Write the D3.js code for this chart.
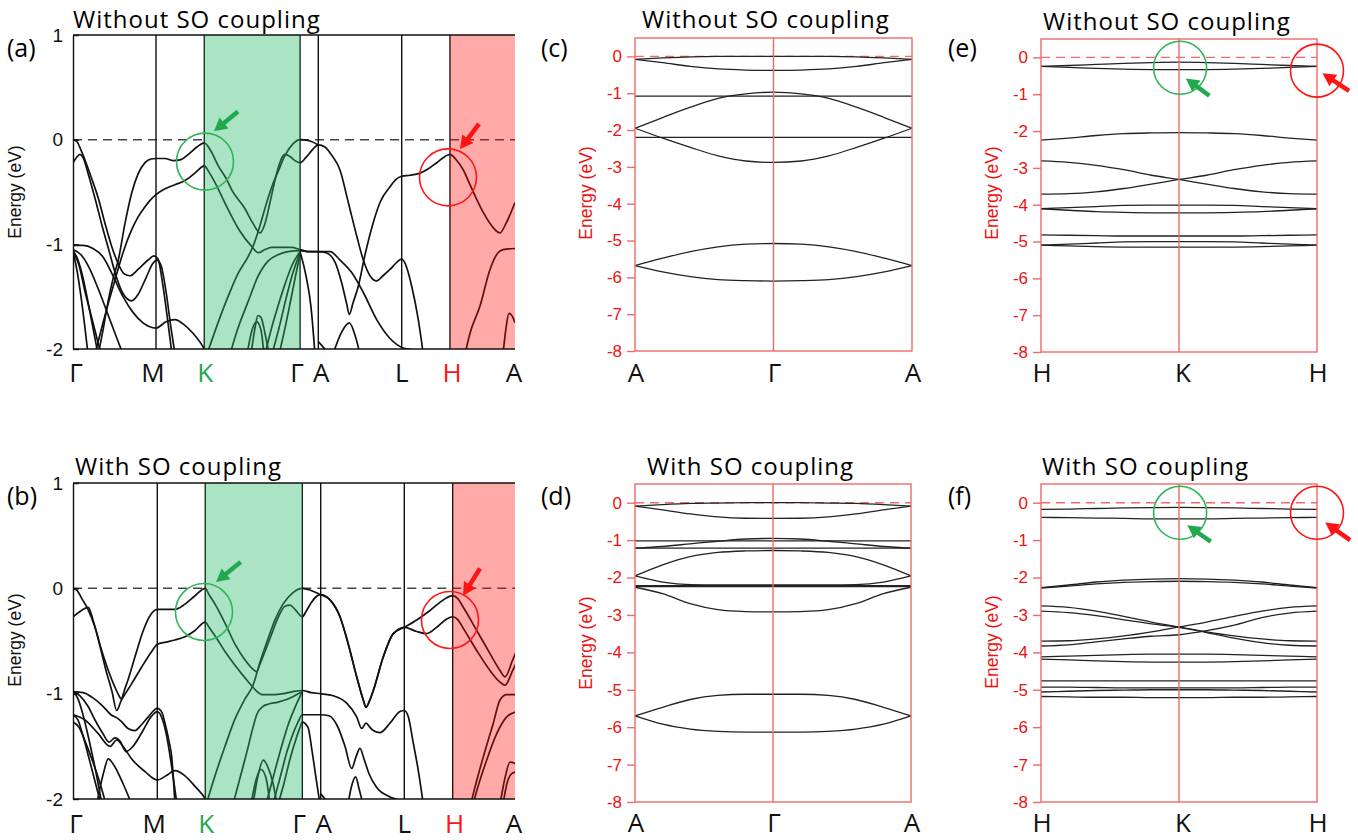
<!DOCTYPE html>
<html>
<head>
<meta charset="utf-8">
<script src="https://cdn.jsdelivr.net/npm/d3@7"></script>
<style>
body { margin: 0; background: #fff; }
text { font-family: "Liberation Sans", Arial, sans-serif; }
.big { font-family: "Open Sans", Lato, sans-serif; }
</style>
</head>
<body>
<script>
// ---- high symmetry paths (k in path units) ----
var kPathA = [0, 0.83, 1.313, 2.27, 2.453, 3.287, 3.77];
var kPathB = [0, 0.843, 1.323, 2.293, 2.477, 3.313, 3.797];
var kEnd = 4.42;
var kLabelsAB = ["Γ", "M", "K", "Γ", "A", "L", "H", "A"];

// ---- (a) without SO, wide path, [k, E] ----
var bandsA = [
  [[0,0],[0.04,-0.02],[0.08,-0.1],[0.13,-0.22],[0.19,-0.38],[0.253,-0.56],[0.32,-0.8],[0.387,-1.02],[0.45,-1.18],[0.51,-1.28],[0.57,-1.3],[0.65,-1.24],[0.75,-1.15],[0.81,-1.11],[0.85,-1.14],[0.9,-1.4],[0.95,-1.75],[0.99,-2.05]],
  [[0,-0.22],[0.035,-0.17],[0.07,-0.14],[0.1,-0.17],[0.15,-0.32],[0.22,-0.56],[0.29,-0.82],[0.36,-1.06],[0.43,-1.3],[0.5,-1.47],[0.587,-1.54],[0.65,-1.48],[0.73,-1.32],[0.8,-1.18],[0.84,-1.15],[0.88,-1.2],[0.93,-1.45],[0.98,-1.8],[1.02,-2.05]],
  [[0.22,-2.05],[0.3,-1.75],[0.36,-1.54],[0.42,-1.34],[0.5,-1.08],[0.587,-0.86],[0.65,-0.74],[0.72,-0.64],[0.78,-0.57],[0.83,-0.525],[0.92,-0.47],[1.02,-0.43],[1.1,-0.4],[1.153,-0.37],[1.23,-0.31],[1.313,-0.25],[1.36,-0.31],[1.42,-0.41],[1.527,-0.62],[1.66,-0.86],[1.787,-1.02],[1.853,-1.08],[1.92,-1.05],[1.987,-1.03],[2.1,-1.03],[2.187,-1.03],[2.27,-1.05],[2.36,-1.07],[2.453,-1.07],[2.57,-1.07],[2.67,-1.15],[2.787,-1.27],[2.903,-1.46],[3.037,-1.72],[3.17,-1.9],[3.3,-1.99],[3.4,-2.01],[3.45,-2.05]],
  [[0.253,-2.05],[0.3,-1.82],[0.35,-1.55],[0.4,-1.33],[0.453,-1.15],[0.52,-0.8],[0.587,-0.51],[0.65,-0.33],[0.72,-0.22],[0.78,-0.185],[0.83,-0.18],[0.92,-0.18],[1.0,-0.2],[1.08,-0.19],[1.153,-0.14],[1.24,-0.07],[1.313,-0.03],[1.38,-0.11],[1.453,-0.25],[1.537,-0.38],[1.587,-0.48],[1.72,-0.66],[1.8,-0.8],[1.87,-0.89],[1.92,-0.8],[1.97,-0.6],[2.037,-0.32],[2.09,-0.17],[2.12,-0.14],[2.17,-0.16],[2.22,-0.2],[2.27,-0.22],[2.33,-0.17],[2.4,-0.09],[2.453,-0.05],[2.52,-0.07],[2.58,-0.14],[2.67,-0.29],[2.753,-0.6],[2.837,-0.92],[2.903,-1.15],[2.97,-1.3],[3.037,-1.35],[3.1,-1.3],[3.17,-1.24],[3.24,-1.17],[3.287,-1.14],[3.32,-1.18],[3.387,-1.4],[3.453,-1.72],[3.503,-2.05]],
  [[1.34,-2.05],[1.45,-1.75],[1.55,-1.5],[1.65,-1.28],[1.75,-1.12],[1.8,-1.02],[1.87,-0.82],[1.937,-0.6],[2.0,-0.42],[2.053,-0.3],[2.12,-0.15],[2.2,-0.04],[2.27,0],[2.36,-0.01],[2.453,-0.05]],
  [[1.57,-2.05],[1.65,-1.8],[1.75,-1.55],[1.853,-1.3],[1.95,-1.16],[2.05,-1.1],[2.15,-1.07],[2.27,-1.06],[2.36,-1.07],[2.453,-1.07],[2.53,-1.08],[2.62,-1.17],[2.687,-1.37],[2.737,-1.57],[2.763,-1.67],[2.8,-1.56],[2.853,-1.4],[2.92,-1.1],[3.0,-0.8],[3.07,-0.6],[3.17,-0.45],[3.23,-0.38],[3.287,-0.35],[3.37,-0.34],[3.47,-0.32],[3.55,-0.28],[3.637,-0.22],[3.72,-0.16],[3.77,-0.14],[3.83,-0.19],[3.903,-0.29],[3.97,-0.43],[4.037,-0.57],[4.1,-0.69],[4.17,-0.8],[4.23,-0.87],[4.27,-0.89],[4.33,-0.8],[4.42,-0.6]],
  [[1.92,-2.05],[2.0,-1.75],[2.053,-1.58],[2.12,-1.38],[2.19,-1.2],[2.27,-1.07]],
  [[1.99,-2.05],[2.06,-1.8],[2.13,-1.52],[2.2,-1.27],[2.27,-1.08]],
  [[2.06,-2.05],[2.12,-1.8],[2.18,-1.52],[2.23,-1.28],[2.27,-1.1]],
  [[1.78,-2.05],[1.82,-1.8],[1.85,-1.68],[1.88,-1.7],[1.92,-1.85],[1.96,-2.05]],
  [[1.74,-2.05],[1.79,-1.82],[1.84,-1.74],[1.88,-1.82],[1.91,-2.05]],
  [[0,-1.01],[0.1,-1.01],[0.2,-1.04],[0.3,-1.12],[0.4,-1.3],[0.5,-1.5],[0.6,-1.65],[0.7,-1.75],[0.83,-1.8],[0.93,-1.74],[1.02,-1.72],[1.1,-1.76],[1.2,-1.85],[1.313,-2.0],[1.34,-2.05]],
  [[0,-1.05],[0.08,-1.1],[0.16,-1.22],[0.25,-1.42],[0.33,-1.62],[0.4,-1.8],[0.46,-1.95],[0.5,-2.05]],
  [[0,-1.06],[0.05,-1.15],[0.1,-1.32],[0.15,-1.55],[0.2,-1.8],[0.25,-2.05]],
  [[0,-1.07],[0.04,-1.25],[0.08,-1.5],[0.12,-1.8],[0.15,-2.05]],
  [[0,-1.07],[0.06,-1.2],[0.12,-1.45],[0.2,-1.75],[0.28,-2.05]],
  [[2.27,-1.07],[2.33,-1.3],[2.38,-1.6],[2.42,-2.05]],
  [[2.453,-1.93],[2.5,-1.98],[2.56,-2.05]],
  [[2.6,-2.05],[2.68,-1.85],[2.763,-1.75],[2.83,-1.9],[2.87,-2.05]],
  [[3.92,-2.05],[3.97,-1.85],[4.07,-1.59],[4.17,-1.24],[4.25,-1.08],[4.3,-1.05],[4.42,-1.04]],
  [[4.3,-2.05],[4.33,-1.8],[4.36,-1.66],[4.4,-1.7],[4.42,-1.75]]
];

// ---- (b) with SO, wide path ----
var bandsB = [
  [[0,0],[0.04,-0.02],[0.09,-0.1],[0.15,-0.2],[0.22,-0.37],[0.287,-0.59],[0.353,-0.78],[0.42,-0.94],[0.46,-1.02],[0.48,-1.05],[0.52,-0.95],[0.553,-0.86],[0.62,-0.65],[0.703,-0.4],[0.77,-0.26],[0.843,-0.2],[0.93,-0.2],[1.02,-0.2],[1.12,-0.15],[1.22,-0.07],[1.323,0],[1.36,-0.06],[1.42,-0.15],[1.52,-0.33],[1.62,-0.53],[1.72,-0.68],[1.79,-0.76],[1.837,-0.79],[1.87,-0.72],[1.92,-0.6],[1.98,-0.45],[2.05,-0.28],[2.12,-0.17],[2.17,-0.16],[2.22,-0.2],[2.293,-0.27],[2.33,-0.22],[2.38,-0.14],[2.43,-0.08],[2.477,-0.06],[2.57,-0.11],[2.67,-0.27],[2.753,-0.53],[2.837,-0.84],[2.903,-1.06],[2.93,-1.13],[2.96,-1.08],[3.003,-0.97],[3.103,-0.65],[3.203,-0.43],[3.313,-0.37],[3.437,-0.3],[3.57,-0.21],[3.703,-0.11],[3.797,-0.07],[3.85,-0.1],[3.903,-0.18],[4.037,-0.4],[4.17,-0.62],[4.27,-0.78],[4.32,-0.84],[4.397,-0.68],[4.437,-0.59]],
  [[0,-0.27],[0.07,-0.22],[0.153,-0.18],[0.2,-0.3],[0.27,-0.55],[0.33,-0.78],[0.39,-0.98],[0.437,-1.16],[0.48,-1.07],[0.53,-0.99],[0.587,-0.905],[0.687,-0.747],[0.787,-0.6],[0.843,-0.53],[0.93,-0.51],[1.02,-0.49],[1.12,-0.46],[1.22,-0.4],[1.323,-0.32],[1.36,-0.37],[1.42,-0.45],[1.52,-0.6],[1.62,-0.73],[1.72,-0.85],[1.8,-0.94],[1.83,-0.97],[1.9,-1.01],[2.0,-1.01],[2.1,-1.0],[2.2,-0.98],[2.293,-0.97],[2.38,-0.99],[2.477,-1.0],[2.603,-1.02],[2.737,-1.09],[2.837,-1.22],[2.887,-1.33],[2.93,-1.28],[2.97,-1.32],[3.003,-1.35],[3.07,-1.37],[3.17,-1.28],[3.27,-1.17],[3.313,-1.16],[3.353,-1.22],[3.403,-1.47],[3.453,-1.73],[3.503,-2.05]],
  [[1.333,-2.05],[1.42,-1.78],[1.52,-1.5],[1.62,-1.24],[1.72,-1.05],[1.8,-0.92],[1.87,-0.7],[1.95,-0.48],[2.02,-0.3],[2.1,-0.15],[2.2,-0.04],[2.293,0],[2.38,-0.02],[2.477,-0.06],[2.57,-0.11],[2.67,-0.27],[2.753,-0.53],[2.837,-0.84],[2.903,-1.06],[2.93,-1.13],[2.96,-1.08],[3.003,-0.97],[3.103,-0.65],[3.203,-0.43],[3.313,-0.37],[3.437,-0.41],[3.537,-0.43],[3.637,-0.37],[3.737,-0.29],[3.797,-0.27],[3.85,-0.3],[3.903,-0.38],[4.037,-0.59],[4.17,-0.78],[4.27,-0.89],[4.32,-0.92],[4.397,-0.78],[4.437,-0.7]],
  [[1.6,-2.05],[1.67,-1.8],[1.737,-1.56],[1.8,-1.32],[1.837,-1.2],[1.9,-1.12],[1.95,-1.1],[2.05,-1.08],[2.15,-1.05],[2.293,-0.98]],
  [[1.93,-2.05],[2.0,-1.8],[2.08,-1.52],[2.15,-1.3],[2.22,-1.13],[2.293,-0.98]],
  [[2.0,-2.05],[2.07,-1.8],[2.14,-1.55],[2.2,-1.38],[2.25,-1.27],[2.293,-1.2],[2.38,-1.2],[2.477,-1.2],[2.56,-1.21],[2.64,-1.3],[2.72,-1.5],[2.787,-1.71],[2.83,-1.6],[2.87,-1.52],[2.91,-1.62],[2.96,-1.76],[3.037,-1.89],[3.17,-1.98],[3.27,-2.02],[3.31,-2.05]],
  [[2.05,-2.05],[2.11,-1.85],[2.17,-1.62],[2.23,-1.43],[2.27,-1.32],[2.293,-1.27],[2.35,-1.32],[2.39,-1.54],[2.43,-1.8],[2.47,-2.05]],
  [[1.8,-2.05],[1.85,-1.78],[1.903,-1.63],[1.95,-1.7],[2.0,-1.85],[2.04,-2.05]],
  [[1.78,-2.05],[1.83,-1.82],[1.88,-1.72],[1.93,-1.8],[1.97,-2.05]],
  [[0,-0.98],[0.1,-0.99],[0.2,-1.04],[0.3,-1.12],[0.38,-1.2],[0.44,-1.23],[0.48,-1.26],[0.55,-1.33],[0.62,-1.35],[0.68,-1.3],[0.753,-1.22],[0.843,-1.14],[0.89,-1.18],[0.92,-1.28],[0.96,-1.45],[0.987,-1.6],[1.02,-2.05]],
  [[0,-0.98],[0.07,-1.02],[0.15,-1.12],[0.22,-1.25],[0.3,-1.38],[0.36,-1.46],[0.42,-1.42],[0.47,-1.45],[0.53,-1.55],[0.6,-1.5],[0.7,-1.35],[0.78,-1.22],[0.843,-1.17],[0.9,-1.26],[0.94,-1.42],[0.98,-1.65],[1.01,-1.85],[1.04,-2.05]],
  [[0,-1.2],[0.12,-1.25],[0.253,-1.38],[0.37,-1.5],[0.437,-1.44],[0.5,-1.5],[0.587,-1.62],[0.72,-1.74],[0.843,-1.82],[0.93,-1.78],[1.02,-1.73],[1.12,-1.78],[1.22,-1.88],[1.323,-2.0],[1.35,-2.05]],
  [[0,-1.27],[0.06,-1.32],[0.12,-1.45],[0.2,-1.65],[0.27,-1.85],[0.33,-2.05]],
  [[0,-1.2],[0.05,-1.25],[0.1,-1.4],[0.17,-1.65],[0.23,-1.87],[0.28,-2.05]],
  [[0,-0.98],[0.05,-1.05],[0.1,-1.2],[0.17,-1.48],[0.23,-1.75],[0.29,-2.05]],
  [[0.237,-2.05],[0.303,-1.76],[0.353,-1.62],[0.403,-1.67],[0.503,-1.86],[0.587,-2.05]],
  [[2.75,-2.05],[2.78,-1.9],[2.827,-1.79],[2.86,-1.9],[2.9,-2.05]],
  [[2.477,-1.95],[2.52,-2.0],[2.56,-2.05]],
  [[3.977,-2.05],[4.05,-1.78],[4.103,-1.6],[4.203,-1.28],[4.27,-1.06],[4.337,-1.01],[4.437,-1.01]],
  [[4.0,-2.05],[4.07,-1.82],[4.137,-1.63],[4.237,-1.38],[4.337,-1.22],[4.437,-1.17]],
  [[4.27,-2.05],[4.32,-1.8],[4.37,-1.65],[4.437,-1.67]],
  [[4.3,-2.05],[4.34,-1.85],[4.387,-1.76],[4.437,-1.74]]
];

// ---- narrow panels: energies on a fixed k grid (A-Γ-A and H-K-H) ----
var kGrid = [0, 0.1, 0.2, 0.3, 0.4, 0.5, 0.6, 0.7, 0.8, 0.9, 1];
var bandsC = [
  [-0.08,-0.04,-0.01,0,0,0,0,0,-0.01,-0.04,-0.08],
  [-0.08,-0.17,-0.27,-0.34,-0.37,-0.38,-0.37,-0.34,-0.27,-0.17,-0.08],
  [-1.08,-1.08,-1.08,-1.08,-1.08,-1.08,-1.08,-1.08,-1.08,-1.08,-1.08],
  [-1.95,-1.66,-1.38,-1.14,-1.02,-0.97,-1.02,-1.14,-1.38,-1.66,-1.95],
  [-1.95,-2.22,-2.47,-2.7,-2.84,-2.88,-2.84,-2.7,-2.47,-2.22,-1.95],
  [-2.2,-2.2,-2.2,-2.2,-2.2,-2.2,-2.2,-2.2,-2.2,-2.2,-2.2],
  [-5.68,-5.48,-5.3,-5.17,-5.1,-5.08,-5.1,-5.17,-5.3,-5.48,-5.68],
  [-5.68,-5.85,-5.98,-6.06,-6.09,-6.1,-6.09,-6.06,-5.98,-5.85,-5.68]
];
var bandsD = [
  [-0.09,-0.05,-0.02,-0.01,0,0,0,-0.01,-0.02,-0.05,-0.09],
  [-0.09,-0.19,-0.3,-0.38,-0.415,-0.42,-0.415,-0.38,-0.3,-0.19,-0.09],
  [-1.02,-1.02,-1.02,-1.02,-1.02,-1.02,-1.02,-1.02,-1.02,-1.02,-1.02],
  [-1.215,-1.215,-1.215,-1.215,-1.215,-1.215,-1.215,-1.215,-1.215,-1.215,-1.215],
  [-1.215,-1.17,-1.1,-1.03,-0.97,-0.955,-0.97,-1.03,-1.1,-1.17,-1.215],
  [-1.957,-1.66,-1.44,-1.33,-1.29,-1.278,-1.29,-1.33,-1.44,-1.66,-1.957],
  [-1.957,-2.12,-2.19,-2.2,-2.2,-2.2,-2.2,-2.2,-2.19,-2.12,-1.957],
  [-2.22,-2.22,-2.22,-2.22,-2.22,-2.22,-2.22,-2.22,-2.22,-2.22,-2.22],
  [-2.245,-2.245,-2.245,-2.245,-2.245,-2.245,-2.245,-2.245,-2.245,-2.245,-2.245],
  [-2.26,-2.43,-2.7,-2.86,-2.91,-2.92,-2.91,-2.86,-2.7,-2.43,-2.26],
  [-5.7,-5.47,-5.26,-5.15,-5.12,-5.12,-5.12,-5.15,-5.26,-5.47,-5.7],
  [-5.7,-5.92,-6.05,-6.11,-6.13,-6.13,-6.13,-6.11,-6.05,-5.92,-5.7]
];
var bandsE = [
  [-0.245,-0.22,-0.19,-0.16,-0.14,-0.13,-0.14,-0.16,-0.19,-0.22,-0.245],
  [-0.245,-0.27,-0.3,-0.32,-0.33,-0.33,-0.33,-0.32,-0.3,-0.27,-0.245],
  [-2.246,-2.19,-2.12,-2.07,-2.05,-2.04,-2.05,-2.07,-2.12,-2.19,-2.246],
  [-2.81,-2.85,-2.93,-3.05,-3.2,-3.315,-3.44,-3.56,-3.65,-3.7,-3.714],
  [-3.714,-3.7,-3.65,-3.56,-3.44,-3.315,-3.2,-3.05,-2.93,-2.85,-2.81],
  [-4.11,-4.08,-4.05,-4.02,-4.01,-4.01,-4.01,-4.02,-4.05,-4.08,-4.11],
  [-4.11,-4.15,-4.19,-4.21,-4.22,-4.22,-4.22,-4.21,-4.19,-4.15,-4.11],
  [-4.82,-4.83,-4.84,-4.85,-4.85,-4.85,-4.85,-4.85,-4.84,-4.83,-4.82],
  [-5.1,-5.07,-5.04,-5.01,-5.0,-5.0,-5.0,-5.01,-5.04,-5.07,-5.1],
  [-5.1,-5.12,-5.14,-5.15,-5.15,-5.15,-5.15,-5.15,-5.14,-5.12,-5.1]
];
var bandsF = [
  [-0.18,-0.17,-0.155,-0.14,-0.13,-0.125,-0.13,-0.14,-0.155,-0.17,-0.18],
  [-0.39,-0.4,-0.41,-0.42,-0.43,-0.43,-0.43,-0.42,-0.41,-0.4,-0.39],
  [-2.27,-2.2,-2.12,-2.07,-2.04,-2.03,-2.04,-2.07,-2.12,-2.2,-2.27],
  [-2.28,-2.23,-2.17,-2.13,-2.11,-2.1,-2.11,-2.13,-2.17,-2.23,-2.28],
  [-2.76,-2.8,-2.9,-3.04,-3.19,-3.32,-3.45,-3.56,-3.64,-3.69,-3.7],
  [-3.7,-3.69,-3.64,-3.56,-3.45,-3.32,-3.19,-3.04,-2.9,-2.8,-2.76],
  [-2.9,-2.94,-3.02,-3.13,-3.24,-3.33,-3.47,-3.62,-3.74,-3.81,-3.83],
  [-3.83,-3.8,-3.72,-3.64,-3.57,-3.53,-3.42,-3.27,-3.07,-2.95,-2.9],
  [-4.12,-4.1,-4.08,-4.06,-4.05,-4.05,-4.05,-4.06,-4.08,-4.1,-4.12],
  [-4.18,-4.2,-4.23,-4.25,-4.26,-4.26,-4.26,-4.25,-4.23,-4.2,-4.18],
  [-4.76,-4.76,-4.76,-4.76,-4.76,-4.76,-4.76,-4.76,-4.76,-4.76,-4.76],
  [-4.93,-4.93,-4.94,-4.95,-4.95,-4.95,-4.95,-4.95,-4.94,-4.93,-4.93],
  [-5.06,-5.04,-5.02,-5.01,-5.0,-5.0,-5.0,-5.01,-5.02,-5.04,-5.06],
  [-5.18,-5.19,-5.2,-5.2,-5.21,-5.21,-5.21,-5.2,-5.2,-5.19,-5.18]
];

// ---- annotations (circle centres and arrows in data units) ----
var circlesA = [[1.32, -0.21, "g"], [3.75, -0.36, "r"]];
var arrowsA = [[1.65, 0.27, 1.41, 0.08, "g"], [4.06, 0.15, 3.87, -0.09, "r"]];
var circlesB = [[1.31, -0.225, "g"], [3.77, -0.3, "r"]];
var arrowsB = [[1.677, 0.25, 1.43, 0.06, "g"], [4.07, 0.19, 3.9, -0.07, "r"]];
var circlesE = [[0.504, -0.28, "g"], [1.0, -0.36, "r"]];
var arrowsE = [[0.61, -1.04, 0.525, -0.57, "g"], [1.116, -0.91, 1.02, -0.43, "r"]];
var circlesF = [[0.504, -0.27, "g"], [1.0, -0.27, "r"]];
var arrowsF = [[0.615, -1.04, 0.53, -0.6, "g"], [1.12, -1.0, 1.03, -0.53, "r"]];

// ---- styles ----
var GREEN = "#22a94f", GREEN_C = "#2db656", RED = "#ff1414", PINK_LINE = "#f06a6a", TICK_RED = "#ee1111";
var annColor = { g: GREEN, r: RED };
var annCircle = { g: GREEN_C, r: RED };

var svg = d3.select("body").append("svg").attr("width", 1358).attr("height", 840);

function drawArrow(g, xa, ya, xb, yb, color) {
    var dx = xb - xa, dy = yb - ya, L = Math.sqrt(dx * dx + dy * dy);
    var ux = dx / L, uy = dy / L, hl = 13, hw = 7;
    var bx = xb - ux * hl, by = yb - uy * hl;
    g.append("line").attr("x1", xa).attr("y1", ya).attr("x2", bx + ux * 2).attr("y2", by + uy * 2)
        .attr("stroke", color).attr("stroke-width", 4.5);
    g.append("path")
        .attr("d", "M" + xb + "," + yb + "L" + (bx - uy * hw) + "," + (by + ux * hw) + "L" + (bx + uy * hw) + "," + (by - ux * hw) + "Z")
        .attr("fill", color);
}

function drawAnn(g, x, y, circles, arrows, r) {
    circles.forEach(function (c) {
        g.append("circle").attr("cx", x(c[0])).attr("cy", y(c[1])).attr("r", r)
            .attr("fill", "none").attr("stroke", annCircle[c[2]]).attr("stroke-width", 1.6);
    });
    arrows.forEach(function (a) {
        drawArrow(g, x(a[0]), y(a[1]), x(a[2]), y(a[3]), annColor[a[4]]);
    });
}

function panelText(p) {
    svg.append("text").attr("class", "big").attr("x", p.labX).attr("y", p.labY)
        .attr("font-size", 25).text(p.lab);
    svg.append("text").attr("class", "big").attr("x", p.titleX).attr("y", p.titleY)
        .attr("font-size", 24).attr("letter-spacing", 1).text(p.title);
}

// wide band panels (a) and (b)
function drawWide(p, kPath, bands, circles, arrows) {
    var x = d3.scaleLinear().domain([0, kEnd]).range([p.x0, p.x1]);
    var y = d3.scaleLinear().domain([-2, 1]).range([p.y1, p.y0]);
    var g = svg.append("g");
    var clipId = "clip" + p.id;
    svg.append("clipPath").attr("id", clipId).append("rect")
        .attr("x", p.x0).attr("y", p.y0).attr("width", p.x1 - p.x0).attr("height", p.y1 - p.y0);

    // zero reference outside the green window
    [[0, kPath[2]], [kPath[3], kEnd]].forEach(function (s) {
        g.append("line").attr("x1", x(s[0])).attr("x2", x(s[1])).attr("y1", y(0)).attr("y2", y(0))
            .attr("stroke", "#444").attr("stroke-width", 1.5).attr("stroke-dasharray", "9,6");
    });

    var line = d3.line().x(function (d) { return x(d[0]); }).y(function (d) { return y(d[1]); })
        .curve(d3.curveMonotoneX);
    g.append("g").attr("clip-path", "url(#" + clipId + ")")
        .selectAll("path").data(bands).join("path")
        .attr("d", line).attr("fill", "none").attr("stroke", "#111").attr("stroke-width", 1.7);

    g.selectAll(".kl").data(kPath.slice(1)).join("line")
        .attr("x1", function (d) { return x(d); }).attr("x2", function (d) { return x(d); })
        .attr("y1", p.y0).attr("y2", p.y1).attr("stroke", "#111").attr("stroke-width", 1.4);

    // shaded windows K-Γ and H-A
    g.append("rect").attr("x", x(kPath[2])).attr("y", p.y0).attr("width", x(kPath[3]) - x(kPath[2]))
        .attr("height", p.y1 - p.y0).attr("fill", "rgb(49,189,111)").attr("fill-opacity", 0.41);
    g.append("rect").attr("x", x(kPath[6])).attr("y", p.y0).attr("width", x(kEnd) - x(kPath[6]))
        .attr("height", p.y1 - p.y0).attr("fill", "rgb(255,8,8)").attr("fill-opacity", 0.35);

    g.append("line").attr("x1", p.x0).attr("x2", p.x1).attr("y1", p.y0).attr("y2", p.y0)
        .attr("stroke", "#111").attr("stroke-width", 1.4);
    g.append("line").attr("x1", p.x0).attr("x2", p.x1).attr("y1", p.y1).attr("y2", p.y1)
        .attr("stroke", "#111").attr("stroke-width", 1.4);

    var ax = g.append("g").attr("transform", "translate(" + p.x0 + ",0)")
        .call(d3.axisLeft(y).tickValues([1, 0, -1, -2]).tickSizeInner(-6).tickSizeOuter(0)
            .tickPadding(10).tickFormat(function (d) { return String(d); }));
    ax.select(".domain").attr("stroke", "#111").attr("stroke-width", 1.4);
    ax.selectAll(".tick line").attr("stroke", "#111").attr("stroke-width", 1.4);
    ax.selectAll(".tick text").attr("font-size", 19).attr("fill", "#111")
        .attr("font-family", "'Liberation Sans', Arial, sans-serif");

    g.append("text").attr("transform", "translate(" + p.eX + "," + p.eY + ") rotate(-90)")
        .attr("text-anchor", "middle").attr("font-size", 17.5).attr("fill", "#111").text("Energy (eV)");

    var ks = kPath.concat([kEnd]);
    var nudge = [3, -3, 1, -3, 3, 0, 2, -1];
    g.selectAll(".xl").data(ks).join("text").attr("class", "big")
        .attr("x", function (d, i) { return x(d) + nudge[i]; }).attr("y", p.xLabY)
        .attr("text-anchor", "middle").attr("font-size", 26)
        .attr("fill", function (d, i) { return kLabelsAB[i] === "K" ? GREEN : (kLabelsAB[i] === "H" && i === 6 ? RED : "#111"); })
        .text(function (d, i) { return kLabelsAB[i]; });

    drawAnn(g, x, y, circles, arrows, 28.5);
    panelText(p);
}

// narrow panels (c)-(f)
function drawNarrow(p, labels, bands, circles, arrows) {
    var x = d3.scaleLinear().domain([0, 1]).range([p.x0, p.x1]);
    var y = d3.scaleLinear().domain([-8, 0.5]).range([p.y1, p.y0]);
    var g = svg.append("g");

    g.append("line").attr("x1", p.x0).attr("x2", p.x1).attr("y1", y(0)).attr("y2", y(0))
        .attr("stroke", PINK_LINE).attr("stroke-width", 1.4).attr("stroke-dasharray", "9,6");

    var line = d3.line().x(function (d) { return x(d[0]); }).y(function (d) { return y(d[1]); })
        .curve(d3.curveMonotoneX);
    g.selectAll(".band").data(bands).join("path")
        .attr("d", function (b) { return line(kGrid.map(function (k, i) { return [k, b[i]]; })); })
        .attr("fill", "none").attr("stroke", "#222").attr("stroke-width", 1.3);

    g.append("line").attr("x1", x(0.5)).attr("x2", x(0.5)).attr("y1", p.y0).attr("y2", p.y1)
        .attr("stroke", PINK_LINE).attr("stroke-width", 1.4);
    g.append("rect").attr("x", p.x0).attr("y", p.y0).attr("width", p.x1 - p.x0).attr("height", p.y1 - p.y0)
        .attr("fill", "none").attr("stroke", PINK_LINE).attr("stroke-width", 1.4);

    var ax = g.append("g").attr("transform", "translate(" + p.x0 + ",0)")
        .call(d3.axisLeft(y).tickValues(d3.range(0, -9, -1)).tickSizeInner(8).tickSizeOuter(0)
            .tickPadding(5).tickFormat(function (d) { return String(d); }));
    ax.select(".domain").remove();
    ax.selectAll(".tick line").attr("stroke", PINK_LINE).attr("stroke-width", 1.4);
    ax.selectAll(".tick text").attr("font-size", 17).attr("fill", TICK_RED)
        .attr("font-family", "'Liberation Sans', Arial, sans-serif");

    g.append("text").attr("transform", "translate(" + p.eX + "," + p.eY + ") rotate(-90)")
        .attr("text-anchor", "middle").attr("font-size", 17.5).attr("fill", TICK_RED).text("Energy (eV)");

    g.selectAll(".xl").data([0, 0.5, 1]).join("text").attr("class", "big")
        .attr("x", function (d, i) { return x(d) + (labels[i] === "K" ? 4 : 1); }).attr("y", p.xLabY)
        .attr("text-anchor", "middle").attr("font-size", 26).attr("fill", "#111")
        .text(function (d, i) { return labels[i]; });

    if (circles) drawAnn(g, x, y, circles, arrows, 26.5);
    panelText(p);
}

drawWide({ id: "a", x0: 73, x1: 515, y0: 35, y1: 349, eX: 21, eY: 192, xLabY: 382,
    lab: "(a)", labX: 7, labY: 57, title: "Without SO coupling", titleX: 73, titleY: 28 },
    kPathA, bandsA, circlesA, arrowsA);
drawWide({ id: "b", x0: 73, x1: 515, y0: 483, y1: 799, eX: 21, eY: 640, xLabY: 833,
    lab: "(b)", labX: 7, labY: 505, title: "With SO coupling", titleX: 75, titleY: 475 },
    kPathB, bandsB, circlesB, arrowsB);
drawNarrow({ x0: 635, x1: 912, y0: 38, y1: 351, eX: 592, eY: 193, xLabY: 382,
    lab: "(c)", labX: 541, labY: 57, title: "Without SO coupling", titleX: 642, titleY: 28 },
    ["A", "Γ", "A"], bandsC, null, null);
drawNarrow({ x0: 635, x1: 911, y0: 484, y1: 802, eX: 592, eY: 643, xLabY: 832,
    lab: "(d)", labX: 541, labY: 505, title: "With SO coupling", titleX: 647, titleY: 475 },
    ["A", "Γ", "A"], bandsD, null, null);
drawNarrow({ x0: 1041, x1: 1317, y0: 39, y1: 352, eX: 998, eY: 193, xLabY: 382,
    lab: "(e)", labX: 948, labY: 57, title: "Without SO coupling", titleX: 1043, titleY: 30 },
    ["H", "K", "H"], bandsE, circlesE, arrowsE);
drawNarrow({ x0: 1041, x1: 1317, y0: 484, y1: 802, eX: 998, eY: 642, xLabY: 832,
    lab: "(f)", labX: 948, labY: 505, title: "With SO coupling", titleX: 1042, titleY: 475 },
    ["H", "K", "H"], bandsF, circlesF, arrowsF);
</script>
</body>
</html>
